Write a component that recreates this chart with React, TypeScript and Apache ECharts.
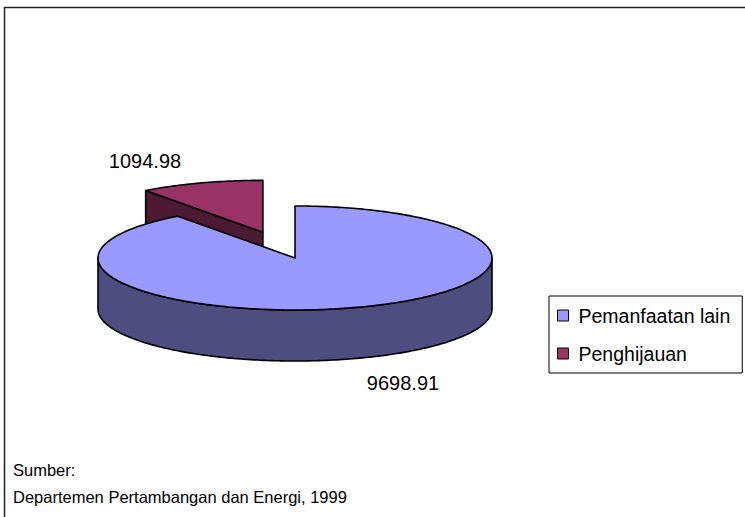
import React, { useEffect, useRef } from "react";
import * as echarts from "echarts";

const categories = ["Pemanfaatan lain", "Penghijauan"];
const values = [9698.91, 1094.98];
const explode = [0, 0.52];
const topColors = ["#9999FF", "#993366"];
const sideColors = ["#4D4D80", "#4D1A33"];
const sourceLines = ["Sumber:", "Departemen Pertambangan dan Energi, 1999"];

const FONT = 'Arial, "Liberation Sans", sans-serif';
const CX = 295;
const CY = 258;
const RX = 197;
const RY = 52;
const DEPTH = 51;
const labelPos = [
  [403, 383],
  [145, 161],
];

function pt(cx: number, cy: number, a: number, dy = 0): number[] {
  const r = (a * Math.PI) / 180;
  return [cx + RX * Math.sin(r), cy - RY * Math.cos(r) + dy];
}

function arc(cx: number, cy: number, a1: number, a2: number, dy = 0): number[][] {
  const pts: number[][] = [];
  const n = Math.max(2, Math.ceil(Math.abs(a2 - a1)));
  for (let k = 0; k <= n; k++) {
    pts.push(pt(cx, cy, a1 + ((a2 - a1) * k) / n, dy));
  }
  return pts;
}

function makeRender(idx: number) {
  return (params: any, api: any) => {
    const total = values.reduce((s, v) => s + v, 0);
    let startVal = 0;
    for (let k = 0; k < idx; k++) startVal += values[k];
    const v = api.value(0) as number;
    const s = (startVal / total) * 360;
    const e = s + (v / total) * 360;
    const mid = (s + e) / 2;
    const m = (mid * Math.PI) / 180;
    const cx = CX + explode[idx] * RX * Math.sin(m);
    const cy = CY - explode[idx] * RY * Math.cos(m);
    const stroke = { stroke: "#000", lineWidth: 1.6, lineJoin: "round" };
    const children: any[] = [];
    const sr = (s * Math.PI) / 180;
    const er = (e * Math.PI) / 180;
    if (-Math.sin(sr) > 0.01) {
      const p = pt(cx, cy, s);
      children.push({
        type: "polygon",
        shape: { points: [[cx, cy], p, [p[0], p[1] + DEPTH], [cx, cy + DEPTH]] },
        style: { fill: sideColors[idx], ...stroke },
      });
    }
    if (Math.sin(er) > 0.01) {
      const p = pt(cx, cy, e);
      children.push({
        type: "polygon",
        shape: { points: [[cx, cy], p, [p[0], p[1] + DEPTH], [cx, cy + DEPTH]] },
        style: { fill: sideColors[idx], ...stroke },
      });
    }
    const a1 = Math.max(s, 90);
    const a2 = Math.min(e, 270);
    if (a2 > a1) {
      const top = arc(cx, cy, a1, a2);
      const bot = arc(cx, cy, a2, a1, DEPTH);
      children.push({
        type: "polygon",
        shape: { points: top.concat(bot) },
        style: { fill: sideColors[idx], ...stroke },
      });
    }
    children.push({
      type: "polygon",
      shape: { points: [[cx, cy]].concat(arc(cx, cy, s, e)) },
      style: { fill: topColors[idx], ...stroke },
    });
    children.push({
      type: "text",
      x: labelPos[idx][0],
      y: labelPos[idx][1],
      style: {
        text: v.toFixed(2),
        fill: "#000",
        fontSize: 20,
        fontFamily: FONT,
        align: "center",
        verticalAlign: "middle",
      },
    });
    return { type: "group", children };
  };
}

export default function App() {
  const ref = useRef<HTMLDivElement>(null);
  useEffect(() => {
    if (!ref.current) return;
    const chart = echarts.init(ref.current, undefined, { renderer: "svg" });
    const series = categories.map((name, i) => ({
      type: "custom",
      name,
      coordinateSystem: "none",
      z: i === 0 ? 3 : 2,
      itemStyle: { color: topColors[i] },
      data: [{ name, value: [values[i]] }],
      renderItem: makeRender(i),
    }));
    chart.setOption({
      animation: false,
      backgroundColor: "#fff",
      legend: {
        data: categories,
        orient: "vertical",
        left: 549,
        top: 296,
        icon: "rect",
        itemWidth: 11,
        itemHeight: 11,
        itemGap: 18,
        padding: [9.5, 12, 9.5, 8],
        borderColor: "#000",
        borderWidth: 1,
        backgroundColor: "#fff",
        selectedMode: false,
        itemStyle: { borderColor: "#000", borderWidth: 1 },
        textStyle: {
          fontSize: 19.5,
          lineHeight: 19,
          fontFamily: FONT,
          color: "#000",
          padding: [0, 0, 0, 5],
        },
      },
      graphic: [
        {
          type: "rect",
          shape: { x: 4.5, y: 7.5, width: 800, height: 600 },
          style: { fill: "none", stroke: "#222", lineWidth: 1.5 },
          z: 0,
        },
        ...sourceLines.map((t, i) => ({
          type: "text",
          x: 13,
          y: 470 + i * 27,
          style: {
            text: t,
            fill: "#000",
            fontSize: 16.5,
            fontFamily: FONT,
            align: "left",
            verticalAlign: "middle",
          },
        })),
      ],
      series,
    });
    return () => chart.dispose();
  }, []);
  return (
    <div
      ref={ref}
      style={{ position: "fixed", left: 0, top: 0, width: 745, height: 517 }}
    />
  );
}
